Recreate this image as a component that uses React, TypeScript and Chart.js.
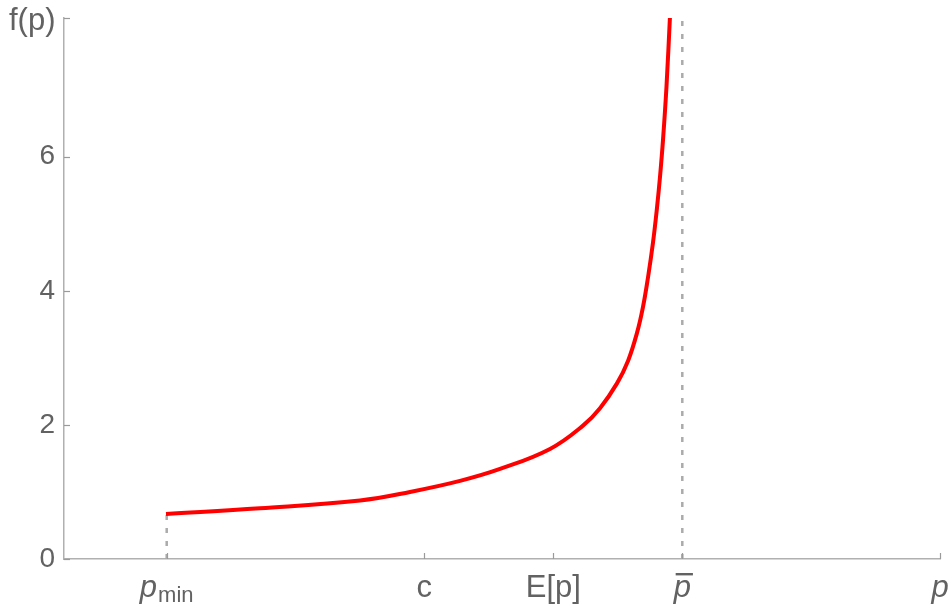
import React, { useEffect, useRef } from "react";
import { Chart, registerables } from "chart.js";

Chart.register(...registerables);

// Density curve f(p) (x in axis units, 0..8.76)
const curveX = [1.02, 1.96, 2.96, 3.46, 3.96, 4.36, 4.86, 5.19, 5.36, 5.53, 5.64, 5.73, 5.79, 5.84, 5.89, 5.93, 5.96, 5.99, 6.025, 6.06, 6.09];
const curveY = [0.672, 0.757, 0.873, 1.0, 1.165, 1.343, 1.642, 1.99, 2.25, 2.62, 2.955, 3.373, 3.761, 4.2, 4.72, 5.24, 5.7, 6.25, 7.05, 8.1, 9.0];

// Axis ticks
const xTickValues = [1.027, 3.603, 4.893, 6.183, 8.76];
const xTickLabels = ["p", "c", "E[p]", "p", "p"];
const xTickSubs = ["min", "", "", "", ""];
const xTickItalic = [true, false, false, true, true];
const xTickOverline = [false, false, false, true, false];
const yTickValues = [0, 2, 4, 6];

const xMax = 8.76;
const yMax = 8.07;
const pMin = 1.027;
const pMinDensity = 0.672;
const pBar = 6.183;

const TEXT = "#626262";
const AXIS = "#b0b0b0";
const FONT = '"Liberation Sans", Arial, sans-serif';

export default function App() {
  const ref = useRef<HTMLCanvasElement>(null);

  useEffect(() => {
    const canvas = ref.current!;
    const labelsPlugin = {
      id: "customLabels",
      afterDraw(chart: any) {
        const ctx = chart.ctx as CanvasRenderingContext2D;
        const xs = chart.scales.x;
        const ys = chart.scales.y;
        const area = chart.chartArea;
        ctx.save();
        // inward tick marks
        ctx.strokeStyle = "#9a9a9a";
        ctx.lineWidth = 1.2;
        [...yTickValues, yMax].forEach((v) => {
          const py = Math.round(ys.getPixelForValue(v)) + 0.5;
          ctx.beginPath();
          ctx.moveTo(area.left, py);
          ctx.lineTo(area.left + 6, py);
          ctx.stroke();
        });
        xTickValues.forEach((v) => {
          const px = Math.round(xs.getPixelForValue(v)) + 0.5;
          ctx.beginPath();
          ctx.moveTo(px, area.bottom);
          ctx.lineTo(px, area.bottom - 6);
          ctx.stroke();
        });
        // x tick labels
        ctx.fillStyle = TEXT;
        ctx.textBaseline = "alphabetic";
        ctx.textAlign = "left";
        const base = 597;
        xTickValues.forEach((v, i) => {
          const px = xs.getPixelForValue(v);
          const mainFont = (xTickItalic[i] ? "italic " : "") + "31px " + FONT;
          const subFont = "22px " + FONT;
          ctx.font = mainFont;
          const mw = ctx.measureText(xTickLabels[i]).width;
          ctx.font = subFont;
          const sw = xTickSubs[i] ? ctx.measureText(xTickSubs[i]).width + 1 : 0;
          const start = px - (mw + sw) / 2;
          ctx.font = mainFont;
          ctx.fillText(xTickLabels[i], start, base);
          if (xTickSubs[i]) {
            ctx.font = subFont;
            ctx.fillText(xTickSubs[i], start + mw + 1, base + 5);
          }
          if (xTickOverline[i]) {
            ctx.fillRect(start + 2, 573, mw, 2.4);
          }
        });
        // y axis title
        ctx.font = "31px " + FONT;
        ctx.fillText("f(p)", 9, 30);
        ctx.restore();
      },
    };

    const chart = new Chart(canvas, {
      type: "line",
      data: {
        datasets: [
          {
            data: curveX.map((x, i) => ({ x, y: curveY[i] })),
            borderColor: "#ff0000",
            borderWidth: 4,
            pointRadius: 0,
            tension: 0.4,
            clip: 0,
            order: 0,
          },
          {
            data: [
              { x: pMin, y: 0 },
              { x: pMin, y: pMinDensity },
            ],
            borderColor: "#ababab",
            borderWidth: 2.5,
            borderDash: [5, 8],
            pointRadius: 0,
            order: 1,
          },
          {
            data: [
              { x: pBar, y: 0 },
              { x: pBar, y: yMax },
            ],
            borderColor: "#ababab",
            borderWidth: 2.5,
            borderDash: [5, 8],
            pointRadius: 0,
            order: 1,
          },
        ],
      },
      options: {
        animation: false,
        responsive: false,
        layout: { padding: { top: 18, right: 12, left: 0, bottom: 0 } },
        plugins: { legend: { display: false }, tooltip: { enabled: false } },
        scales: {
          x: {
            type: "linear",
            min: 0,
            max: xMax,
            afterBuildTicks: (s: any) => {
              s.ticks = xTickValues.map((v) => ({ value: v }));
            },
            ticks: { display: false },
            grid: { display: false, drawTicks: false },
            border: { display: true, color: AXIS, width: 1.5 },
            afterFit: (s: any) => {
              s.height = 51;
              s.paddingLeft = 0;
              s.paddingRight = 0;
            },
          },
          y: {
            type: "linear",
            min: 0,
            max: yMax,
            afterBuildTicks: (s: any) => {
              s.ticks = yTickValues.map((v) => ({ value: v }));
            },
            ticks: {
              color: TEXT,
              font: { family: FONT, size: 28 },
              padding: 9,
            },
            grid: { display: false, drawTicks: false },
            border: { display: true, color: AXIS, width: 1.5 },
            afterFit: (s: any) => {
              s.width = 64;
              s.paddingTop = 0;
              s.paddingBottom = 0;
            },
          },
        },
      },
      plugins: [labelsPlugin],
    } as any);
    return () => chart.destroy();
  }, []);

  return (
    <div style={{ position: "fixed", left: 0, top: 0, width: 952, height: 610, background: "#fff" }}>
      <canvas ref={ref} width={952} height={610} style={{ display: "block" }} />
    </div>
  );
}
